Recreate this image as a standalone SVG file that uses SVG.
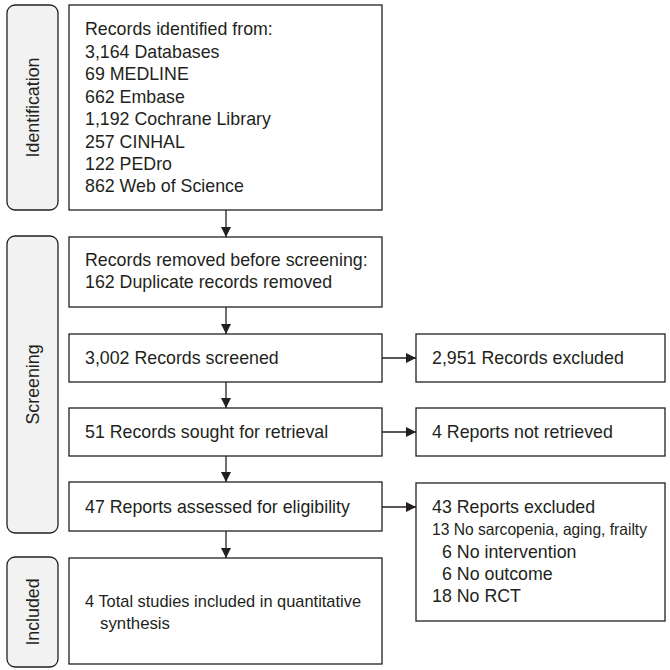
<svg xmlns="http://www.w3.org/2000/svg" width="670" height="670" viewBox="0 0 670 670">
<defs>
<marker id="ah" markerWidth="10" markerHeight="10" refX="10" refY="5" orient="auto" markerUnits="userSpaceOnUse">
<path d="M0,0 L10,5 L0,10 Z" fill="#231f20"/>
</marker>
<style>
.box{fill:#fff;stroke:#231f20;stroke-width:1.3}
.lab{fill:#f2f2f2;stroke:#231f20;stroke-width:1.3}
text{font-family:"Liberation Sans",Arial,sans-serif;font-size:17.8px;fill:#231f20}
.n{font-size:17px}
.c{stroke:#231f20;stroke-width:1.3;fill:none;marker-end:url(#ah)}
</style>
</defs>
<rect width="670" height="670" fill="#fff"/>
<g id="label-identification">
<rect class="lab" x="7" y="5" width="51" height="205" rx="8"/>
<text transform="translate(39,107.5) rotate(-90)" text-anchor="middle">Identification</text>
</g>
<g id="label-screening">
<rect class="lab" x="7" y="236" width="51" height="297" rx="8"/>
<text transform="translate(39,384.5) rotate(-90)" text-anchor="middle">Screening</text>
</g>
<g id="label-included">
<rect class="lab" x="7" y="557" width="51" height="110" rx="8"/>
<text transform="translate(39,612) rotate(-90)" text-anchor="middle">Included</text>
</g>
<g id="identified">
<rect class="box" x="69" y="5" width="313" height="205"/>
<text x="85" y="35">Records identified from:</text>
<text x="85" y="57.5">3,164 Databases</text>
<text x="85" y="80">69 MEDLINE</text>
<text x="85" y="102.5">662 Embase</text>
<text x="85" y="125">1,192 Cochrane Library</text>
<text x="85" y="147.5">257 CINHAL</text>
<text x="85" y="170">122 PEDro</text>
<text x="85" y="192">862 Web of Science</text>
</g>
<g id="removed">
<rect class="box" x="69" y="237" width="313" height="70"/>
<text x="85" y="266">Records removed before screening:</text>
<text x="85" y="288">162 Duplicate records removed</text>
</g>
<g id="screened">
<rect class="box" x="69" y="334" width="313" height="48"/>
<text x="85" y="364">3,002 Records screened</text>
</g>
<g id="sought">
<rect class="box" x="69" y="408" width="313" height="48"/>
<text x="85" y="438">51 Records sought for retrieval</text>
</g>
<g id="assessed">
<rect class="box" x="69" y="482" width="313" height="49"/>
<text x="85" y="513">47 Reports assessed for eligibility</text>
</g>
<g id="included">
<rect class="box" x="69" y="558" width="313" height="106"/>
<text class="n" x="85" y="607" textLength="276" lengthAdjust="spacingAndGlyphs">4 Total studies included in quantitative</text>
<text class="n" x="100" y="629" textLength="70" lengthAdjust="spacingAndGlyphs">synthesis</text>
</g>
<g id="excluded1">
<rect class="box" x="416" y="334" width="249" height="48"/>
<text x="432" y="364">2,951 Records excluded</text>
</g>
<g id="notretrieved">
<rect class="box" x="416" y="408" width="249" height="48"/>
<text x="432" y="438">4 Reports not retrieved</text>
</g>
<g id="excluded2">
<rect class="box" x="416" y="483" width="249" height="138"/>
<text x="432" y="513">43 Reports excluded</text>
<text x="432" y="535" style="font-size:16.5px" textLength="215" lengthAdjust="spacingAndGlyphs">13 No sarcopenia, aging, frailty</text>
<text x="442" y="557.5">6 No intervention</text>
<text x="442" y="580">6 No outcome</text>
<text x="432" y="602">18 No RCT</text>
</g>
<g id="connectors">
<line class="c" x1="226" y1="210" x2="226" y2="237"/>
<line class="c" x1="226" y1="307" x2="226" y2="334"/>
<line class="c" x1="226" y1="382" x2="226" y2="408"/>
<line class="c" x1="226" y1="456" x2="226" y2="482"/>
<line class="c" x1="226" y1="531" x2="226" y2="558"/>
<line class="c" x1="382" y1="358" x2="416" y2="358"/>
<line class="c" x1="382" y1="432" x2="416" y2="432"/>
<line class="c" x1="382" y1="507" x2="416" y2="507"/>
</g>
</svg>
